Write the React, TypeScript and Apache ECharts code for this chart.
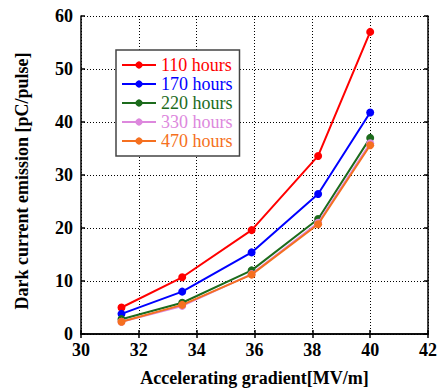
import React, { useEffect, useRef } from "react";
import * as echarts from "echarts";

const gradient = [31.4, 33.5, 35.9, 38.2, 40];
const seriesNames = ["110 hours", "170 hours", "220 hours", "330 hours", "470 hours"];
const h110 = [5.0, 10.7, 19.6, 33.6, 57.0];
const h170 = [3.8, 8.0, 15.4, 26.4, 41.8];
const h220 = [2.8, 5.9, 12.0, 21.7, 37.0];
const h330 = [2.3, 5.3, 11.3, 21.0, 36.0];
const h470 = [2.3, 5.5, 11.2, 20.7, 35.6];
const colors = ["#ff0000", "#0000ff", "#1c6b1c", "#dd88dd", "#f57020"];

const font = "Liberation Serif, Times New Roman, serif";

export default function App() {
  const ref = useRef<HTMLDivElement>(null);
  useEffect(() => {
    const chart = echarts.init(ref.current!, null, { renderer: "svg" });
    const all = [h110, h170, h220, h330, h470];
    const axisCommon = {
      axisLine: { show: true, lineStyle: { color: "#000", width: 1.5 } },
      axisTick: { show: true, inside: true, length: 4, lineStyle: { color: "#000", width: 1.5 } },
    };
    chart.setOption({
      animation: false,
      backgroundColor: "#fff",
      grid: { left: 81, right: 12, top: 16, bottom: 54, containLabel: false },
      legend: {
        orient: "vertical",
        left: 116,
        top: 50,
        itemWidth: 34,
        itemHeight: 9,
        itemGap: 1,
        padding: [6, 7, 6, 5],
        borderColor: "#444",
        borderWidth: 1.5,
        backgroundColor: "#fff",
        data: seriesNames.map((n, i) => ({
          name: n,
          textStyle: { color: colors[i], fontFamily: font, fontSize: 18 },
        })),
      },
      xAxis: [
        {
          type: "value",
          min: 30,
          max: 42,
          interval: 2,
          position: "bottom",
          ...axisCommon,
          axisLabel: { color: "#000", fontFamily: font, fontWeight: "bold", fontSize: 18, margin: 7 },
          splitLine: { show: true, lineStyle: { color: "#000", type: [1, 2], width: 1 } },
          name: "Accelerating gradient[MV/m]",
          nameLocation: "middle",
          nameGap: 35,
          nameTextStyle: { color: "#000", fontFamily: font, fontWeight: "bold", fontSize: 18 },
        },
        {
          type: "value",
          min: 30,
          max: 42,
          interval: 2,
          position: "top",
          ...axisCommon,
          axisLabel: { show: false },
          splitLine: { show: false },
        },
      ],
      yAxis: [
        {
          type: "value",
          min: 0,
          max: 60,
          interval: 10,
          position: "left",
          ...axisCommon,
          axisLabel: { color: "#000", fontFamily: font, fontWeight: "bold", fontSize: 18, margin: 8 },
          splitLine: { show: true, lineStyle: { color: "#000", type: [1, 2], width: 1 } },
          name: "Dark current emission [pC/pulse]",
          nameLocation: "middle",
          nameGap: 50,
          nameTextStyle: {
            color: "#000",
            fontFamily: font,
            fontWeight: "bold",
            fontSize: 18,
            padding: [0, 12, 0, 0],
          },
        },
        {
          type: "value",
          min: 0,
          max: 60,
          interval: 10,
          position: "right",
          ...axisCommon,
          axisLabel: { show: false },
          splitLine: { show: false },
        },
      ],
      series: all.map((vals, i) => ({
        name: seriesNames[i],
        type: "line",
        data: gradient.map((g, j) => [g, vals[j]]),
        symbol: "circle",
        symbolSize: 8,
        lineStyle: { color: colors[i], width: 2 },
        itemStyle: { color: colors[i] },
        z: 2 + i,
      })),
    });
    return () => chart.dispose();
  }, []);
  return (
    <div
      ref={ref}
      style={{ position: "fixed", left: 0, top: 0, width: 440, height: 392 }}
    />
  );
}
